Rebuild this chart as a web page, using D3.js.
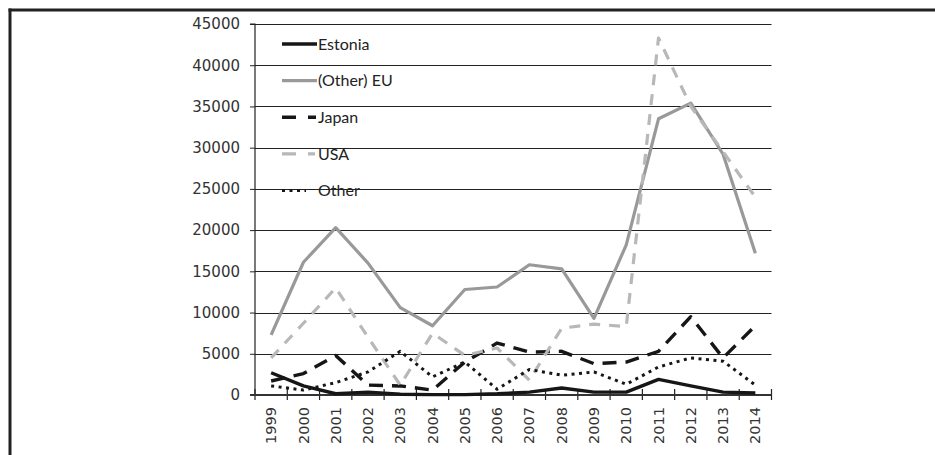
<!DOCTYPE html>
<html>
<head>
<meta charset="utf-8">
<script src="https://cdn.jsdelivr.net/npm/d3@7"></script>
<style>
  html, body { margin: 0; padding: 0; background: #fff; }
  svg { display: block; }
</style>
</head>
<body>
<svg id="chart" width="935" height="455"></svg>
<script>
// ---- data ----
const years = ["1999","2000","2001","2002","2003","2004","2005","2006","2007","2008","2009","2010","2011","2012","2013","2014"];
const estonia = [2700, 1100, 150, 350, 100, 50, 50, 150, 350, 850, 350, 350, 1900, 1100, 350, 250];
const otherEU = [7300, 16100, 20300, 16000, 10600, 8400, 12800, 13100, 15800, 15300, 9300, 18200, 33500, 35400, 29200, 17200];
const japan   = [1700, 2600, 4800, 1200, 1100, 600, 4000, 6300, 5200, 5300, 3800, 4000, 5300, 9500, 4500, 8400];
const usa     = [4500, 8700, 13000, 7000, 1200, 7500, 4800, 5700, 1800, 8100, 8600, 8300, 43300, 35000, 29500, 24000];
const other   = [1100, 600, 1500, 2800, 5300, 2200, 4000, 700, 3100, 2400, 2800, 1300, 3400, 4500, 4100, 1200];
const yTicks  = [0, 5000, 10000, 15000, 20000, 25000, 30000, 35000, 40000, 45000];
const seriesNames = ["Estonia", "(Other) EU", "Japan", "USA", "Other"];

const series = [
  {name: seriesNames[0], values: estonia, color: "#161616", width: 3.4, dash: null,    legDash: null,    legEnd: 317},
  {name: seriesNames[1], values: otherEU, color: "#999999", width: 3.2, dash: null,    legDash: null,    legEnd: 317},
  {name: seriesNames[2], values: japan,   color: "#161616", width: 3.4, dash: "14,9",  legDash: "14,12", legEnd: 316},
  {name: seriesNames[3], values: usa,     color: "#b8b8b8", width: 3.2, dash: "11,9",  legDash: "14,12", legEnd: 315},
  {name: seriesNames[4], values: other,   color: "#161616", width: 3.0, dash: "3,4.5", legDash: "3,4.5", legEnd: 306}
];

const svg = d3.select("#chart");
const pLeft = 255, pRight = 771.5, pTop = 24, pBottom = 395;

const x = d3.scaleBand().domain(years).range([pLeft, pRight]).padding(0);
const y = d3.scaleLinear().domain([0, 45000]).range([pBottom, pTop]);

// outer frame
svg.append("line").attr("x1", 10).attr("x2", 10).attr("y1", 8.5).attr("y2", 455)
  .attr("stroke", "#222").attr("stroke-width", 3);
svg.append("line").attr("x1", 8.5).attr("x2", 935).attr("y1", 10).attr("y2", 10)
  .attr("stroke", "#222").attr("stroke-width", 3);

// gridlines
svg.append("g").selectAll("line").data(yTicks.filter(d => d > 0)).join("line")
  .attr("x1", pLeft).attr("x2", pRight)
  .attr("y1", d => Math.round(y(d)) + 0.5).attr("y2", d => Math.round(y(d)) + 0.5)
  .attr("stroke", "#222").attr("stroke-width", 1.1);

// y axis
const yAxis = d3.axisLeft(y).tickValues(yTicks).tickSize(5).tickPadding(10).tickFormat(d3.format("d"));
const gy = svg.append("g").attr("transform", `translate(${pLeft},0)`).call(yAxis);
gy.select(".domain").attr("stroke", "#222").attr("stroke-width", 1.2).attr("d", `M-5,${pTop}H0V${pBottom}H-5`);
gy.selectAll(".tick line").attr("stroke", "#222");
gy.selectAll(".tick text").attr("font-family", "DejaVu Sans").attr("font-size", 15).attr("fill", "#333");

// x axis labels
const xAxis = d3.axisBottom(x).tickSize(0).tickPadding(0);
const gx = svg.append("g").attr("transform", `translate(0,${pBottom})`).call(xAxis);
gx.select(".domain").remove();
gx.selectAll(".tick text")
  .attr("font-family", "DejaVu Sans").attr("font-size", 14.5).attr("fill", "#333")
  .attr("transform", "rotate(-90)")
  .attr("text-anchor", "end")
  .attr("x", -12).attr("y", 0).attr("dy", "0.35em");

// x axis line and crossing ticks at band boundaries
const bounds = years.map(d => x(d)).concat([pRight]);
svg.append("g").selectAll("line").data(bounds).join("line")
  .attr("x1", d => d).attr("x2", d => d)
  .attr("y1", pBottom - 6).attr("y2", pBottom + 5)
  .attr("stroke", "#222").attr("stroke-width", 1.2);
svg.append("line").attr("x1", pLeft - 5).attr("x2", pRight).attr("y1", pBottom).attr("y2", pBottom)
  .attr("stroke", "#333").attr("stroke-width", 2);

// lines
const line = d3.line().x((d, i) => x(years[i]) + x.bandwidth() / 2).y(d => y(d));
series.forEach(s => {
  svg.append("path").datum(s.values)
    .attr("d", line)
    .attr("fill", "none")
    .attr("stroke", s.color)
    .attr("stroke-width", s.width)
    .attr("stroke-linejoin", "round")
    .attr("stroke-dasharray", s.dash);
});

// legend
const lg = svg.append("g");
series.forEach((s, i) => {
  const yy = 44 + i * 36.6;
  lg.append("line").attr("x1", 282).attr("x2", s.legEnd).attr("y1", yy).attr("y2", yy)
    .attr("stroke", s.color).attr("stroke-width", s.width)
    .attr("stroke-dasharray", s.legDash);
  lg.append("text").attr("x", 318).attr("y", yy).attr("dy", "0.36em")
    .attr("font-family", "Lato").attr("font-size", 16).attr("fill", "#222")
    .text(s.name);
});
</script>
</body>
</html>
